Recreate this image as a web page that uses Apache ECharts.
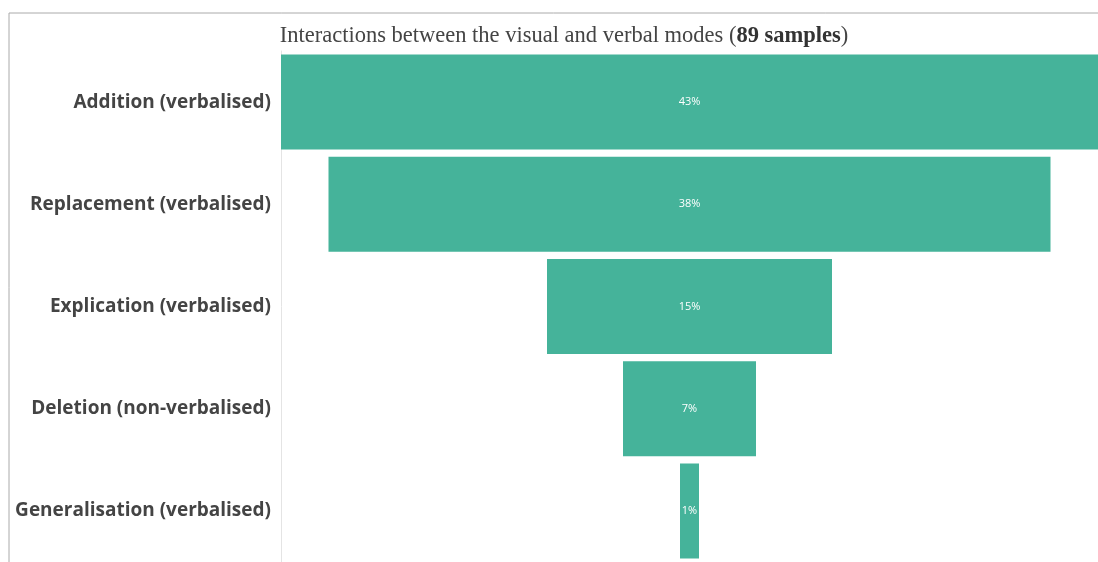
<!DOCTYPE html>
<html><head><meta charset="utf-8">
<script src="https://cdn.jsdelivr.net/npm/echarts@6/dist/echarts.min.js"></script>
<style>html,body{margin:0;padding:0;background:#fff}#c{width:1098px;height:562px}</style>
</head><body><div id="c"></div>
<script>
const categories = ['Addition (verbalised)','Replacement (verbalised)','Explication (verbalised)','Deletion (non-verbalised)','Generalisation (verbalised)'];
const values = [43, 38, 15, 7, 1];
const maxValue = 43;
const offsets = values.map(v => (maxValue - v) / 2);

const chart = echarts.init(document.getElementById('c'), null, {renderer:'canvas'});
chart.setOption({
  animation:false,
  backgroundColor:'#fff',
  title:{
    text:'{n|Interactions between the visual and verbal modes (}{b|89 samples}{n|)}',
    left:559, textAlign:'center', top:20,
    textStyle:{fontWeight:'normal', rich:{
      n:{fontFamily:'Liberation Serif', fontSize:22.5, fontWeight:'normal', color:'#444'},
      b:{fontFamily:'Liberation Serif', fontSize:22.5, fontWeight:'bold', color:'#333'}
    }}
  },
  graphic:[{type:'polyline', shape:{points:[[9,562],[9,13],[1098,13]]}, style:{stroke:'#aaa', lineWidth:1, fill:null}, z:-1}],
  grid:{left:281, right:0, top:51, bottom:0, containLabel:false},
  xAxis:{type:'value', min:0, max:maxValue, show:false},
  yAxis:{type:'category', data:categories, inverse:true,
    axisLine:{show:true, lineStyle:{color:'#e4e4e4'}}, axisTick:{show:false},
    axisLabel:{fontFamily:'Open Sans', fontWeight:'bold', fontSize:19, color:'#444', margin:10}},
  series:[
    {type:'bar', stack:'f', data:offsets, itemStyle:{color:'transparent'}, barCategoryGap:'7%', silent:true},
    {type:'bar', stack:'f', data:values, itemStyle:{color:'#45B39A'}, barCategoryGap:'7%',
     label:{show:true, position:'inside', formatter:p=>p.value+'%', color:'#fff', fontSize:11, fontFamily:'Open Sans'}}
  ]
});
</script></body></html>
